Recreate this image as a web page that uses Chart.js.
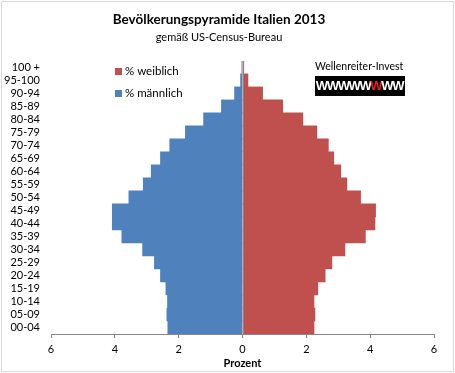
<!DOCTYPE html>
<html>
<head>
<meta charset="utf-8">
<script src="https://cdn.jsdelivr.net/npm/chart.js@4"></script>
<style>
  html, body { margin: 0; padding: 0; background: #fff; }
  canvas { display: block; }
</style>
</head>
<body>
<canvas id="pyramid" width="455" height="373"></canvas>
<script>
// Altersgruppen von oben nach unten
const AGE_GROUPS = ['100 +', '95-100', '90-94', '85-89', '80-84', '75-79', '70-74',
  '65-69', '60-64', '55-59', '50-54', '45-49', '40-44', '35-39', '30-34',
  '25-29', '20-24', '15-19', '10-14', '05-09', '00-04'];

// Anteile in Prozent
const FEMALE = [0.04, 0.17, 0.63, 1.26, 1.89, 2.33, 2.69, 2.86, 3.08, 3.27, 3.70,
  4.17, 4.15, 3.85, 3.21, 2.80, 2.59, 2.36, 2.24, 2.27, 2.24];
const MALE   = [0.02, 0.06, 0.25, 0.66, 1.22, 1.79, 2.28, 2.57, 2.86, 3.11, 3.56,
  4.08, 4.08, 3.78, 3.13, 2.76, 2.57, 2.40, 2.35, 2.37, 2.34];

const X_MIN = -6, X_MAX = 6, X_STEP = 2;
const FONT = 'Lato';

const BLUE = '#4F81BD';
const RED  = '#C0504D';
const AXIS = '#868686';

/* Rahmen, Nulllinie, Legende, Logo */
const decor = {
  id: 'decor',
  beforeDraw(chart) {
    const { ctx, width, height } = chart;
    ctx.save();
    ctx.strokeStyle = '#d9d9d9';
    ctx.lineWidth = 1;
    ctx.strokeRect(1.5, 1.5, width - 3, height - 3);
    ctx.restore();
  },
  afterDatasetsDraw(chart) {
    const { ctx, chartArea } = chart;
    const x0 = Math.round(chart.scales.x.getPixelForValue(0)) + 0.5;
    ctx.save();
    ctx.strokeStyle = AXIS;
    ctx.lineWidth = 1;
    ctx.beginPath();
    ctx.moveTo(x0, chartArea.top);
    ctx.lineTo(x0, chartArea.bottom);
    ctx.stroke();
    ctx.restore();
  },
  afterDraw(chart) {
    const { ctx } = chart;
    ctx.save();
    // Legende
    ctx.font = `11.5px ${FONT}`;
    ctx.textBaseline = 'middle';
    chart.data.datasets.forEach((ds, i) => {
      const y = 71 + i * 22;
      ctx.fillStyle = ds.backgroundColor;
      ctx.fillRect(115, y - 3, 7, 7);
      ctx.fillStyle = '#000';
      ctx.fillText(ds.label, 125, y);
    });
    // Logo
    ctx.font = `10.5px ${FONT}`;
    ctx.fillStyle = '#000';
    ctx.fillText('Wellenreiter-Invest', 315, 67);
    ctx.fillRect(315, 76, 90, 20);
    ctx.font = 'bold 13px "Liberation Sans"';
    ctx.textAlign = 'center';
    for (let i = 0; i < 8; i++) {
      ctx.fillStyle = i === 5 ? '#e8201c' : '#fff';
      ctx.fillText('W', 322 + i * 10.9, 86.5);
    }
    ctx.restore();
  },
};

new Chart(document.getElementById('pyramid'), {
  type: 'bar',
  data: {
    labels: AGE_GROUPS,
    datasets: [
      { label: '% weiblich', data: FEMALE, backgroundColor: RED,
        barPercentage: 1, categoryPercentage: 1, borderWidth: 0 },
      { label: '% männlich', data: MALE.map(v => -v), backgroundColor: BLUE,
        barPercentage: 1, categoryPercentage: 1, borderWidth: 0 },
    ],
  },
  options: {
    indexAxis: 'y',
    responsive: false,
    animation: false,
    layout: { padding: { left: 4, right: 21, top: 12, bottom: 3 } },
    plugins: {
      legend: { display: false },
      tooltip: { enabled: false },
      title: {
        display: true,
        text: 'Bevölkerungspyramide Italien 2013',
        color: '#000',
        font: { family: FONT, size: 13.5, weight: 'bold' },
        padding: { top: 0, bottom: 3 },
      },
      subtitle: {
        display: true,
        text: 'gemäß US-Census-Bureau',
        color: '#000',
        font: { family: FONT, size: 11 },
        padding: { top: 0, bottom: 16.5 },
      },
    },
    scales: {
      x: {
        stacked: true,
        min: X_MIN, max: X_MAX,
        afterFit: s => { s.height = 36; },
        ticks: {
          stepSize: X_STEP,
          color: '#000',
          font: { family: FONT, size: 11 },
          padding: 5,
          callback: v => Math.abs(v),
        },
        grid: { drawOnChartArea: false, tickLength: 4, tickColor: AXIS },
        border: { color: AXIS },
        title: {
          display: true, text: 'Prozent', color: '#000',
          font: { family: FONT, size: 11, weight: 'bold' },
          padding: 0,
        },
      },
      y: {
        stacked: true,
        afterFit: s => { s.width = 47; },
        ticks: { color: '#000', font: { family: FONT, size: 11 }, padding: 11, autoSkip: false },
        grid: { display: false, drawTicks: false },
        border: { display: false },
      },
    },
  },
  plugins: [decor],
});
</script>
</body>
</html>
